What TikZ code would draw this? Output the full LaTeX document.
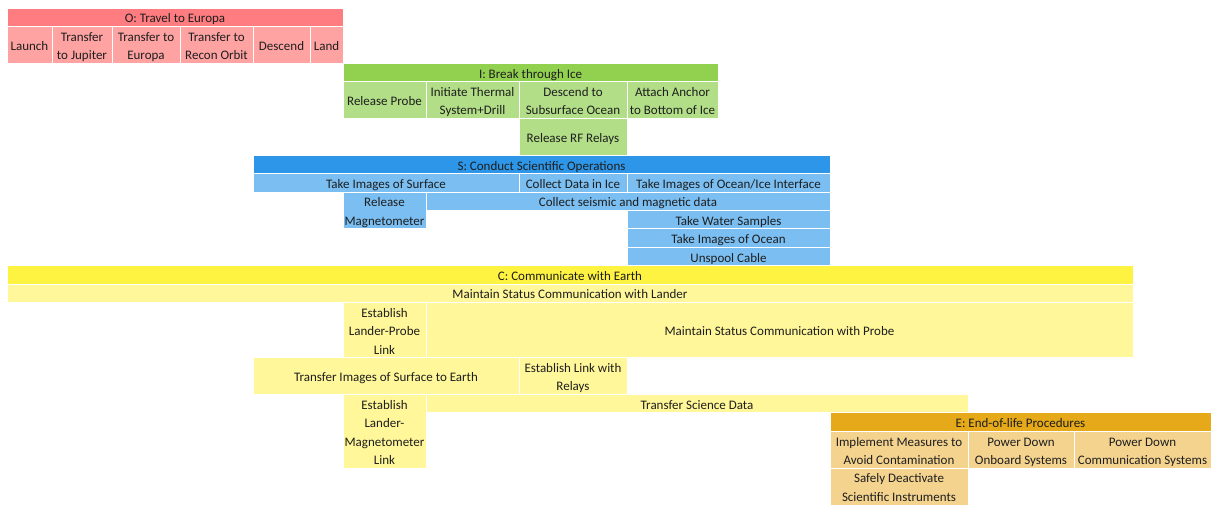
\documentclass[tikz,border=0pt]{standalone}
\usepackage{fontspec}
\setmainfont{Carlito}
\definecolor{oHead}{RGB}{255,124,128}
\definecolor{oCell}{RGB}{255,162,162}
\definecolor{iHead}{RGB}{146,208,80}
\definecolor{iCell}{RGB}{178,222,135}
\definecolor{sHead}{RGB}{45,150,232}
\definecolor{sCell}{RGB}{122,190,242}
\definecolor{cHead}{RGB}{255,243,66}
\definecolor{cCell}{RGB}{255,247,153}
\definecolor{eHead}{RGB}{229,169,25}
\definecolor{eCell}{RGB}{244,211,143}
\definecolor{ink}{RGB}{30,30,30}
\tikzset{
  cellbox/.style={draw=white, line width=0.9pt, anchor=north west, inner sep=0pt, outer sep=0pt,
    text=ink, font=\fontsize{13}{18.4}\selectfont},
  ohead/.style={cellbox, fill=oHead}, ocell/.style={cellbox, fill=oCell},
  ihead/.style={cellbox, fill=iHead}, icell/.style={cellbox, fill=iCell},
  shead/.style={cellbox, fill=sHead}, scell/.style={cellbox, fill=sCell},
  chead/.style={cellbox, fill=cHead}, ccell/.style={cellbox, fill=cCell},
  ehead/.style={cellbox, fill=eHead}, ecell/.style={cellbox, fill=eCell},
}
% grid cell: name, left, top, right, bottom, style, text (lines separated by \\)
\newcommand\gridcell[7]{%
  \node[#6, minimum width={(#4)-(#2)}, minimum height={(#5)-(#3)}] (#1) at (#2,#3)
    {\raisebox{-2pt}[\height][\depth]{\begin{tabular}{@{}c@{}}#7\end{tabular}}};}
\begin{document}
\begin{tikzpicture}[x=1pt,y=-1pt]
\useasboundingbox (0,0) rectangle (1211,505);
% column edges
\def\cA{7}\def\cB{52}\def\cC{112}\def\cD{180}\def\cE{253}\def\cF{310}
\def\cG{343}\def\cH{426}\def\cI{519}\def\cJ{627}\def\cK{718}\def\cL{830}
\def\cM{968}\def\cN{1074}\def\cO{1211}\def\cX{1133}
% O: travel
\gridcell{oh}{\cA}{8}{\cG}{26.4}{ohead}{O: Travel to Europa}
\gridcell{o1}{\cA}{26.4}{\cB}{63.2}{ocell}{Launch}
\gridcell{o2}{\cB}{26.4}{\cC}{63.2}{ocell}{Transfer\\to Jupiter}
\gridcell{o3}{\cC}{26.4}{\cD}{63.2}{ocell}{Transfer to\\Europa}
\gridcell{o4}{\cD}{26.4}{\cE}{63.2}{ocell}{Transfer to\\Recon Orbit}
\gridcell{o5}{\cE}{26.4}{\cF}{63.2}{ocell}{Descend}
\gridcell{o6}{\cF}{26.4}{\cG}{63.2}{ocell}{Land}
% I: ice
\gridcell{ih}{\cG}{63.2}{\cK}{81.6}{ihead}{I: Break through Ice}
\gridcell{i1}{\cG}{81.6}{\cH}{118.4}{icell}{Release Probe}
\gridcell{i2}{\cH}{81.6}{\cI}{118.4}{icell}{Initiate Thermal\\System+Drill}
\gridcell{i3}{\cI}{81.6}{\cJ}{118.4}{icell}{Descend to\\Subsurface Ocean}
\gridcell{i4}{\cJ}{81.6}{\cK}{118.4}{icell}{Attach Anchor\\to Bottom of Ice}
\gridcell{i5}{\cI}{118.4}{\cJ}{155.2}{icell}{Release RF Relays}
% S: science
\gridcell{sh}{\cE}{155.2}{\cL}{173.6}{shead}{S: Conduct Scientific Operations}
\gridcell{s1}{\cE}{173.6}{\cI}{192}{scell}{Take Images of Surface}
\gridcell{s2}{\cI}{173.6}{\cJ}{192}{scell}{Collect Data in Ice}
\gridcell{s3}{\cJ}{173.6}{\cL}{192}{scell}{Take Images of Ocean/Ice Interface}
\gridcell{s4}{\cG}{192}{\cH}{228.8}{scell}{Release\\Magnetometer}
\gridcell{s5}{\cH}{192}{\cL}{210.4}{scell}{Collect seismic and magnetic data}
\gridcell{s6}{\cJ}{210.4}{\cL}{228.8}{scell}{Take Water Samples}
\gridcell{s7}{\cJ}{228.8}{\cL}{247.2}{scell}{Take Images of Ocean}
\gridcell{s8}{\cJ}{247.2}{\cL}{265.6}{scell}{Unspool Cable}
% C: communication
\gridcell{ch}{\cA}{265.6}{\cX}{284}{chead}{C: Communicate with Earth}
\gridcell{c1}{\cA}{284}{\cX}{302.4}{ccell}{Maintain Status Communication with Lander}
\gridcell{c2}{\cG}{302.4}{\cH}{357.6}{ccell}{Establish\\Lander-Probe\\Link}
\gridcell{c3}{\cH}{302.4}{\cX}{357.6}{ccell}{Maintain Status Communication with Probe}
\gridcell{c4}{\cE}{357.6}{\cI}{394.4}{ccell}{Transfer Images of Surface to Earth}
\gridcell{c5}{\cI}{357.6}{\cJ}{394.4}{ccell}{Establish Link with\\Relays}
\gridcell{c6}{\cG}{394.4}{\cH}{468}{ccell}{Establish\\Lander-\\Magnetometer\\Link}
\gridcell{c7}{\cH}{394.4}{\cM}{412.8}{ccell}{Transfer Science Data}
% E: end of life
\gridcell{eh}{\cL}{412.8}{\cO}{431.2}{ehead}{E: End-of-life Procedures}
\gridcell{e1}{\cL}{431.2}{\cM}{468}{ecell}{Implement Measures to\\Avoid Contamination}
\gridcell{e2}{\cM}{431.2}{\cN}{468}{ecell}{Power Down\\Onboard Systems}
\gridcell{e3}{\cN}{431.2}{\cO}{468}{ecell}{Power Down\\Communication Systems}
\gridcell{e4}{\cL}{468}{\cM}{505}{ecell}{Safely Deactivate\\Scientific Instruments}
\end{tikzpicture}
\end{document}
